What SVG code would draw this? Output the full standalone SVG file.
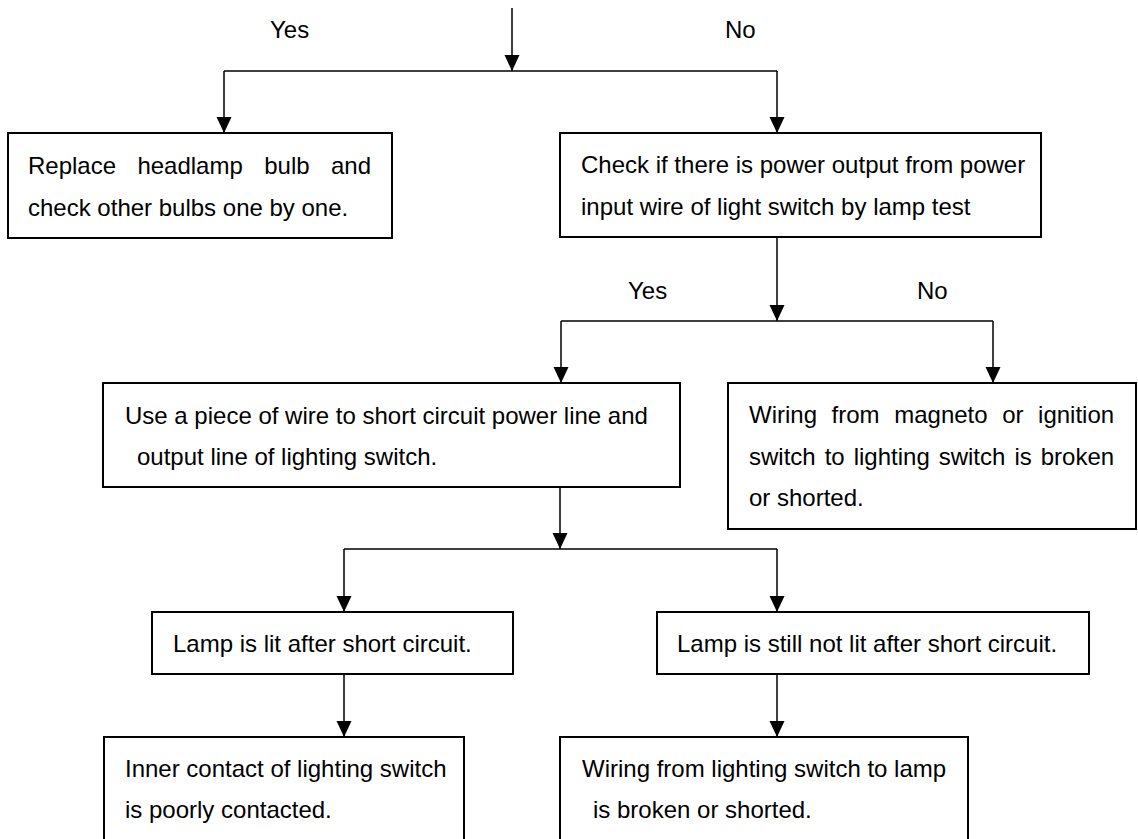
<svg xmlns="http://www.w3.org/2000/svg" width="1138" height="839" viewBox="0 0 1138 839">
<style>
.box{fill:#fff;stroke:#000;stroke-width:2}
.t{font-family:"Liberation Sans",Arial,sans-serif;font-size:24px;fill:#000}
.c{fill:none;stroke:#000;stroke-width:1.5}
</style>
<defs>
<marker id="ah" markerUnits="userSpaceOnUse" markerWidth="16" markerHeight="16" refX="16" refY="7.5" orient="auto">
<path d="M0,0 L16,7.5 L0,15 z" fill="#000"/>
</marker>
</defs>
<rect width="1138" height="839" fill="#fff"/>
<g id="labels">
<text class="t" x="270" y="38">Yes</text>
<text class="t" x="725" y="38">No</text>
<text class="t" x="628" y="299">Yes</text>
<text class="t" x="917" y="299">No</text>
</g>
<g id="connectors">
<path class="c" d="M512,8 V71" marker-end="url(#ah)"/>
<path class="c" d="M224,71 H777"/>
<path class="c" d="M224,71 V133" marker-end="url(#ah)"/>
<path class="c" d="M777,71 V133" marker-end="url(#ah)"/>
<path class="c" d="M777,238 V321" marker-end="url(#ah)"/>
<path class="c" d="M561,321 H993"/>
<path class="c" d="M561,321 V383" marker-end="url(#ah)"/>
<path class="c" d="M993,321 V383" marker-end="url(#ah)"/>
<path class="c" d="M560,487 V549" marker-end="url(#ah)"/>
<path class="c" d="M344,549 H777"/>
<path class="c" d="M344,549 V612" marker-end="url(#ah)"/>
<path class="c" d="M777,549 V612" marker-end="url(#ah)"/>
<path class="c" d="M344,674 V737" marker-end="url(#ah)"/>
<path class="c" d="M777,674 V737" marker-end="url(#ah)"/>
</g>
<g id="n1">
<rect class="box" x="8" y="133" width="384" height="105"/>
<text class="t" y="174"><tspan x="28">Replace</tspan><tspan x="137.4">headlamp</tspan><tspan x="264.2">bulb</tspan><tspan x="331">and</tspan></text>
<text class="t" x="28" y="216">check other bulbs one by one.</text>
</g>
<g id="n2">
<rect class="box" x="560" y="133" width="481" height="104"/>
<text class="t" x="581" y="173">Check if there is power output from power</text>
<text class="t" x="581" y="215">input wire of light switch by lamp test</text>
</g>
<g id="n3">
<rect class="box" x="103" y="383" width="577" height="104"/>
<text class="t" x="125" y="424">Use a piece of wire to short circuit power line and</text>
<text class="t" x="137" y="465">output line of lighting switch.</text>
</g>
<g id="n4">
<rect class="box" x="728" y="383" width="408" height="146"/>
<text class="t" y="423"><tspan x="749">Wiring</tspan><tspan x="831.6">from</tspan><tspan x="894.2">magneto</tspan><tspan x="1002.2">or</tspan><tspan x="1038.1">ignition</tspan></text>
<text class="t" y="465"><tspan x="749">switch</tspan><tspan x="824.7">to</tspan><tspan x="853.7">lighting</tspan><tspan x="938.7">switch</tspan><tspan x="1014.4">is</tspan><tspan x="1040.7">broken</tspan></text>
<text class="t" x="749" y="506">or shorted.</text>
</g>
<g id="n5">
<rect class="box" x="152" y="612" width="361" height="62"/>
<text class="t" x="173" y="652">Lamp is lit after short circuit.</text>
</g>
<g id="n6">
<rect class="box" x="657" y="612" width="432" height="62"/>
<text class="t" x="677" y="652">Lamp is still not lit after short circuit.</text>
</g>
<g id="n7">
<rect class="box" x="104" y="737" width="360" height="130"/>
<text class="t" x="125" y="777">Inner contact of lighting switch</text>
<text class="t" x="125" y="818">is poorly contacted.</text>
</g>
<g id="n8">
<rect class="box" x="560" y="737" width="408" height="130"/>
<text class="t" x="582" y="777">Wiring from lighting switch to lamp</text>
<text class="t" x="593" y="818">is broken or shorted.</text>
</g>
</svg>
